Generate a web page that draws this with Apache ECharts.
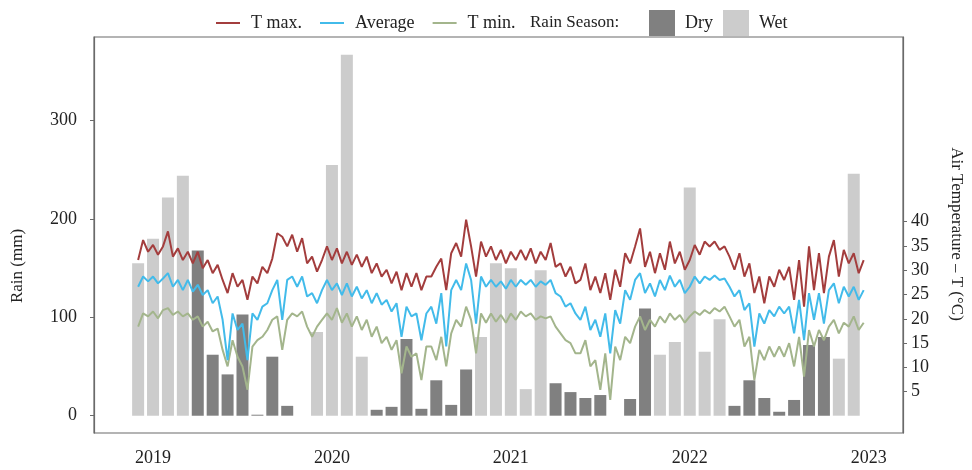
<!DOCTYPE html>
<html>
<head>
<meta charset="utf-8">
<script src="https://cdn.jsdelivr.net/npm/echarts@6/dist/echarts.min.js"></script>
<style>
html,body{margin:0;padding:0;background:#fff}
#chart{width:972px;height:470px}
</style>
</head>
<body>
<div id="chart"></div>
<script>
// monthly rain (mm) and season, Dec 2018 - Dec 2022
var months = ['2018-12','2019-01','2019-02','2019-03','2019-04','2019-05','2019-06','2019-07','2019-08','2019-09','2019-10','2019-11',
  '2019-12','2020-01','2020-02','2020-03','2020-04','2020-05','2020-06','2020-07','2020-08','2020-09','2020-10','2020-11',
  '2020-12','2021-01','2021-02','2021-03','2021-04','2021-05','2021-06','2021-07','2021-08','2021-09','2021-10','2021-11',
  '2021-12','2022-01','2022-02','2022-03','2022-04','2022-05','2022-06','2022-07','2022-08','2022-09','2022-10','2022-11','2022-12'];
var rain = [155,180,222,244,168,62,42,103,1,60,10,null,
  85,255,367,60,6,9,78,7,36,11,47,80,
  155,150,27,148,33,24,18,21,null,17,109,62,
  75,232,65,98,10,36,18,4,16,72,80,58,246];
var season = ['W','W','W','W','D','D','D','D','D','D','D','',
  'W','W','W','W','D','D','D','D','D','D','D','W',
  'W','W','W','W','D','D','D','D','','D','D','W',
  'W','W','W','W','D','D','D','D','D','D','D','W','W'];

// air temperature (°C), one reading every ~10 days from 1 Dec 2018
var tempStart = 2018 + 11 / 12;
var tempStep = 1 / 36;
var tMax = [32.1,36.2,33.8,35.2,33.2,34.9,38.0,32.8,34.5,32.1,33.8,31.4,33.8,30.4,32.1,29.4,31.1,28.0,25.3,29.4,26.6,28.0,23.9,28.7,27.3,30.7,29.4,32.4,37.6,
  36.9,34.9,37.3,33.8,36.6,31.4,32.8,29.7,32.1,34.9,32.1,34.5,31.4,33.8,31.1,33.2,30.7,32.8,29.4,31.4,28.7,30.1,27.3,29.7,25.9,29.4,26.6,29.4,25.9,28.7,
  28.7,30.7,32.4,25.9,33.5,35.6,32.8,40.4,34.9,28.7,35.9,32.8,34.9,32.1,34.2,31.4,33.8,32.1,34.2,32.1,34.5,31.4,33.8,32.1,35.6,30.7,31.4,28.7,30.7,27.3,
  28.0,31.4,25.9,28.7,25.3,29.4,23.9,30.1,26.6,33.5,31.4,34.9,38.6,30.7,33.8,29.4,33.5,30.1,35.9,31.4,33.8,30.1,32.1,35.2,33.2,35.9,34.9,35.9,34.2,34.9,
  32.8,30.1,33.5,28.7,31.4,25.3,28.7,23.2,28.7,26.6,30.1,28.0,30.7,23.9,32.1,22.5,34.9,25.9,33.5,25.3,32.8,36.2,28.7,34.2,31.4,33.5,29.4,32.1];
var tAvg = [26.6,28.7,27.7,28.7,27.3,28.3,29.4,26.6,28.0,25.9,28.0,25.6,27.0,24.9,25.9,23.2,24.6,19.8,11.5,21.1,17.7,19.0,11.5,21.1,19.8,22.5,23.2,25.9,28.0,
  19.8,28.0,28.7,26.6,28.7,24.6,25.3,23.2,25.9,28.0,25.9,27.3,24.9,27.3,24.6,26.6,24.2,25.9,23.2,25.3,22.9,23.9,21.5,23.2,16.3,22.5,20.5,21.1,15.6,21.1,
  22.5,19.0,25.3,14.3,25.9,28.0,25.9,31.4,28.0,19.0,28.7,26.6,28.0,26.6,27.7,26.2,28.0,26.6,28.0,27.0,28.0,26.6,27.7,27.0,28.0,25.3,24.6,22.5,23.2,21.1,
  19.8,22.5,17.7,19.8,16.3,21.1,12.9,21.8,19.0,25.9,23.9,28.0,29.4,25.3,27.3,24.6,28.0,25.9,28.9,26.6,28.0,25.3,26.6,28.7,27.3,28.7,28.0,28.9,28.0,28.3,
  26.6,24.6,25.9,21.8,23.2,14.3,21.1,19.0,21.8,20.5,22.5,21.1,22.5,17.0,23.9,15.6,25.3,19.8,25.3,19.0,25.9,27.3,23.2,26.6,24.6,26.6,23.9,25.9];
var tMin = [18.4,21.1,20.5,21.5,20.1,21.8,22.2,20.8,21.5,20.5,21.1,19.8,20.5,18.4,19.4,17.4,18.0,13.6,10.2,15.6,12.2,10.2,5.4,14.3,15.6,16.3,17.7,19.8,20.5,
  13.6,19.8,21.1,20.5,21.5,18.4,16.3,18.4,19.8,21.1,19.8,22.2,19.2,21.1,18.4,20.5,17.7,19.8,16.3,18.4,15.0,16.3,13.6,15.6,8.8,14.3,12.2,12.9,7.4,14.3,
  14.3,11.5,16.3,10.2,17.0,19.8,18.4,22.5,19.8,12.9,21.1,19.2,21.1,19.4,20.8,19.2,21.1,19.8,21.5,20.5,21.1,19.8,20.5,20.1,20.5,18.4,17.0,15.6,15.0,12.9,
  12.9,15.6,10.2,11.5,5.4,12.9,3.3,14.3,11.5,16.3,15.0,18.4,20.5,17.7,19.8,18.4,20.5,19.2,21.1,19.8,20.8,19.2,20.5,21.5,20.8,21.8,21.1,22.2,21.5,22.5,
  20.5,18.4,19.8,14.3,16.3,7.4,13.6,11.5,14.3,12.2,14.3,12.2,15.0,10.2,16.3,8.1,17.7,14.3,17.7,15.6,18.4,19.8,17.0,19.2,18.4,20.5,17.7,19.2];

var yearTicks = [2019, 2020, 2021, 2022, 2023];
var rainTicks = [0, 100, 200, 300];
var tempTicks = [5, 10, 15, 20, 25, 30, 35, 40];

var font = '"Liberation Serif", "Times New Roman", serif';

function monthX(s) {
  var p = s.split('-');
  return +p[0] + (+p[1] - 1) / 12;
}
var dry = [], wet = [];
months.forEach(function (m, i) {
  if (rain[i] == null) return;
  if (season[i] == 'D') dry.push([monthX(m), rain[i]]);
  else wet.push([monthX(m), rain[i]]);
});
function tempSeries(arr) {
  return arr.map(function (v, i) { return [tempStart + i * tempStep, v]; });
}

var myChart = echarts.init(document.getElementById('chart'));
var lineBase = { type: 'line', yAxisIndex: 1, showSymbol: false, symbol: 'none', z: 5 };

myChart.setOption({
  backgroundColor: '#fff',
  animation: false,
  textStyle: { fontFamily: font, color: '#222' },
  grid: { left: 94, right: 69, top: 37, bottom: 37, show: true, borderColor: '#6a6a6a', borderWidth: 1.2, outerBoundsMode: 'none', containLabel: false },
  legend: [{
    data: ['T max.', 'Average', 'T min.'],
    left: 211, top: 9,
    icon: 'rect', itemWidth: 24, itemHeight: 2, itemGap: 18,
    textStyle: { fontFamily: font, fontSize: 18, color: '#222', padding: [0, 0, 0, 6] }
  }, {
    data: ['Dry', 'Wet'],
    left: 644, top: 5,
    icon: 'rect', itemWidth: 26, itemHeight: 26, itemGap: 10,
    textStyle: { fontFamily: font, fontSize: 18, color: '#222', padding: [0, 0, 0, 5] }
  }],
  graphic: [
    { type: 'text', left: 530, top: 14, style: { text: 'Rain Season:', font: '17px ' + font, fill: '#222' } },
    { type: 'text', x: 18, y: 266, rotation: Math.PI / 2,
      style: { text: 'Rain (mm)', font: '17px ' + font, fill: '#222', align: 'center', verticalAlign: 'middle' } },
    { type: 'text', x: 956, y: 234, rotation: -Math.PI / 2,
      style: { text: 'Air Temperature \u2013 T (\u00b0C)', font: '17px ' + font, fill: '#222', align: 'center', verticalAlign: 'middle' } }
  ],
  xAxis: {
    type: 'value', min: 2018.670, max: 2023.192,
    axisLine: { show: false }, axisTick: { show: false }, splitLine: { show: false },
    axisLabel: { customValues: yearTicks, formatter: function (v) { return String(Math.round(v)); },
      fontFamily: font, fontSize: 18, color: '#222', margin: 16 }
  },
  yAxis: [{
    type: 'value', min: -17.6, max: 385.1, position: 'left',
    axisLine: { show: true, lineStyle: { color: '#6a6a6a', width: 1.2 } },
    axisTick: { show: true, length: 4, customValues: rainTicks, lineStyle: { color: '#6a6a6a' } },
    axisLabel: { customValues: rainTicks, fontFamily: font, fontSize: 18, color: '#222', margin: 17 },
    splitLine: { show: false }
  }, {
    type: 'value', min: -3.5, max: 78.0, position: 'right',
    axisLine: { show: true, lineStyle: { color: '#6a6a6a', width: 1.2 } },
    axisTick: { show: true, length: 4, customValues: tempTicks, lineStyle: { color: '#6a6a6a' } },
    axisLabel: { customValues: tempTicks, fontFamily: font, fontSize: 18, color: '#222', margin: 8 },
    splitLine: { show: false }
  }],
  series: [
    { name: 'Dry', type: 'bar', yAxisIndex: 0, data: dry, barWidth: 12, barGap: '-100%', itemStyle: { color: '#808080' }, z: 2 },
    { name: 'Wet', type: 'bar', yAxisIndex: 0, data: wet, barWidth: 12, barGap: '-100%', itemStyle: { color: '#cccccc' }, z: 2 },
    Object.assign({ name: 'T min.', data: tempSeries(tMin), itemStyle: { color: '#a3b58c' }, lineStyle: { color: '#a3b58c', width: 2 } }, lineBase),
    Object.assign({ name: 'Average', data: tempSeries(tAvg), itemStyle: { color: '#42bbea' }, lineStyle: { color: '#42bbea', width: 2 } }, lineBase),
    Object.assign({ name: 'T max.', data: tempSeries(tMax), itemStyle: { color: '#a33d3d' }, lineStyle: { color: '#a33d3d', width: 2 } }, lineBase)
  ]
});
</script>
</body>
</html>
